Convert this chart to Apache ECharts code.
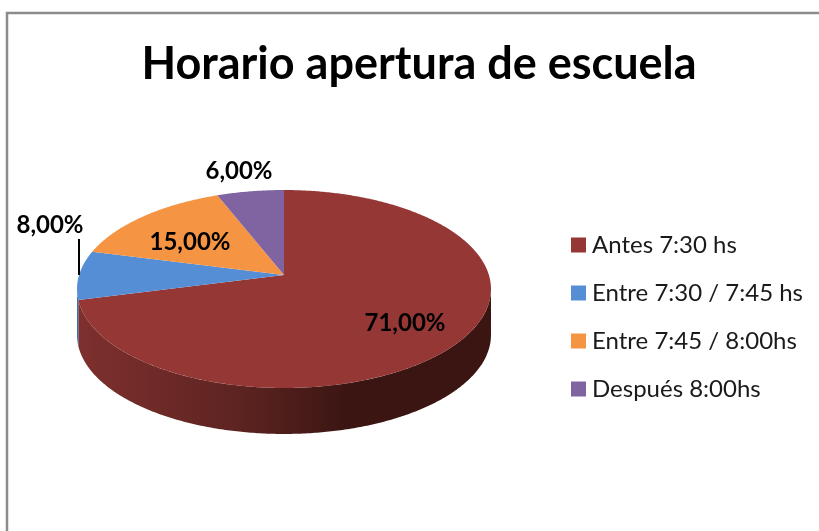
<!DOCTYPE html>
<html>
<head>
<meta charset="utf-8">
<script src="https://cdn.jsdelivr.net/npm/echarts@6/dist/echarts.min.js"></script>
<style>
  html, body { margin: 0; padding: 0; background: #fff; }
  #chart { width: 819px; height: 531px; }
</style>
</head>
<body>
<div id="chart"></div>
<script>
const categories = ['Antes 7:30 hs', 'Entre 7:30 / 7:45 hs', 'Entre 7:45 / 8:00hs', 'Después 8:00hs'];
const values = [71, 8, 15, 6];
const valueLabels = ['71,00%', '8,00%', '15,00%', '6,00%'];
const colors = ['#953735', '#558ed5', '#f59543', '#8064a2'];

const FONT = 'Lato, Carlito, sans-serif';

// the pie is a tilted disc, so the far half looks shorter than the near half
const cx = 284, cy = 275, depth = 46;
const scaleX = 204.9, scaleY = 97, persp = 0.1414;

// label offset from the pie centre, per slice
const labelPos = [[121, 48], [-234, -50], [-94, -33], [-45, -104]];

const total = values.reduce((a, b) => a + b, 0);

function project(angle, drop) {
  const u = Math.sin(angle), v = -Math.cos(angle);
  const w = 1 - persp * v;
  return [cx + scaleX * u / w, cy + scaleY * v / w + drop];
}

function arcPoints(from, to, drop) {
  const steps = Math.max(2, Math.ceil(Math.abs(to - from) / 0.01));
  const pts = [];
  for (let i = 0; i <= steps; i++) {
    pts.push(project(from + (to - from) * i / steps, drop));
  }
  return pts;
}

function sliceRange(index) {
  let before = 0;
  for (let i = 0; i < index; i++) before += values[i];
  return [before / total * Math.PI * 2, (before + values[index]) / total * Math.PI * 2];
}

// only the part of the rim facing the viewer has a wall
const wallFrom = Math.acos(-persp);
const wallTo = Math.PI * 2 - wallFrom;

function wallColor(index) {
  if (index === 0) {
    return {
      type: 'linear', x: 0, y: 0, x2: 1, y2: 0,
      colorStops: [
        { offset: 0, color: '#7e302e' },
        { offset: 0.38, color: '#5e2421' },
        { offset: 0.66, color: '#3a1512' },
        { offset: 1, color: '#3a1512' }
      ]
    };
  }
  return '#3f6da8';
}

function renderSlice(index, params, api) {
  const range = sliceRange(index);
  const children = [];

  const a = Math.max(range[0], wallFrom), b = Math.min(range[1], wallTo);
  if (b > a) {
    const wall = arcPoints(a, b, 0).concat(arcPoints(b, a, depth));
    children.push({
      type: 'polygon',
      shape: { points: wall },
      style: { fill: wallColor(index) },
      z2: 1
    });
  }

  children.push({
    type: 'polygon',
    shape: { points: [[cx, cy]].concat(arcPoints(range[0], range[1], 0)) },
    style: { fill: colors[index] },
    z2: 2
  });

  if (index === 1) {
    // leader line of the 8,00% label
    children.push({
      type: 'line',
      shape: { x1: 79, y1: 239, x2: 79, y2: 275 },
      style: { stroke: '#000', lineWidth: 2 },
      z2: 3
    });
  }

  children.push({
    type: 'text',
    x: cx + labelPos[index][0],
    y: cy + labelPos[index][1],
    style: {
      text: valueLabels[index],
      font: 'bold 24px ' + FONT,
      fill: '#000',
      textAlign: 'center',
      textVerticalAlign: 'middle'
    },
    z2: 4
  });

  return { type: 'group', children: children };
}

const series = categories.map((name, index) => ({
  type: 'custom',
  name: name,
  coordinateSystem: 'none',
  itemStyle: { color: colors[index] },
  data: [[values[index]]],
  silent: true,
  renderItem: (params, api) => renderSlice(index, params, api)
}));

const chart = echarts.init(document.getElementById('chart'));
chart.setOption({
  animation: false,
  backgroundColor: '#fff',
  title: {
    text: 'Horario apertura de escuela',
    left: 414,
    top: 37,
    textAlign: 'center',
    textStyle: { fontFamily: FONT, fontSize: 45, fontWeight: 'bold', color: '#000' }
  },
  legend: {
    data: categories,
    orient: 'vertical',
    left: 566,
    top: 228,
    icon: 'rect',
    itemWidth: 15,
    itemHeight: 15,
    itemGap: 24,
    selectedMode: false,
    textStyle: { fontFamily: FONT, fontSize: 24, color: '#1a1a1a', padding: [0, 0, 0, 1] }
  },
  graphic: [{
    type: 'polyline',
    silent: true,
    shape: { points: [[7, 531], [7, 13], [819, 13]] },
    style: { stroke: '#8c8c8c', lineWidth: 2.5, fill: 'none' }
  }],
  series: series
});
</script>
</body>
</html>
